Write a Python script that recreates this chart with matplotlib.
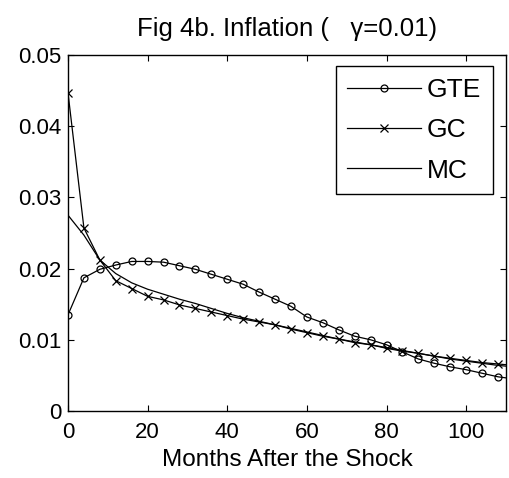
import matplotlib
matplotlib.use("Agg")
import matplotlib.pyplot as plt

months = list(range(0, 113, 4))

# inflation responses (last point sits past the x limit)
gte = [0.0135, 0.0187, 0.0199, 0.0205, 0.0210, 0.0210, 0.0209, 0.0204, 0.0199,
       0.0192, 0.0185, 0.0178, 0.0167, 0.0157, 0.0147, 0.0132, 0.0124, 0.0114,
       0.0105, 0.0100, 0.0093, 0.0083, 0.0073, 0.0067, 0.0062, 0.0058, 0.0053,
       0.0048, 0.0045]
gc = [0.0447, 0.0257, 0.0212, 0.0183, 0.0172, 0.0161, 0.0156, 0.0149, 0.0144,
      0.0139, 0.0134, 0.0129, 0.0125, 0.0121, 0.0115, 0.0110, 0.0105, 0.0101,
      0.0096, 0.0093, 0.0088, 0.0084, 0.0081, 0.0077, 0.0074, 0.0071, 0.0068,
      0.0066, 0.0064]
mc = [0.0275, 0.0247, 0.0212, 0.0193, 0.0180, 0.0171, 0.0164, 0.0157, 0.0151,
      0.0144, 0.0137, 0.0131, 0.0126, 0.0121, 0.0116, 0.0111, 0.0106, 0.0101,
      0.0097, 0.0093, 0.0089, 0.0085, 0.0081, 0.0077, 0.0073, 0.0070, 0.0067,
      0.0064, 0.0062]

plt.rcParams['font.family'] = ['Liberation Sans', 'DejaVu Sans']

fig = plt.figure(figsize=(5.1, 4.78), dpi=100)
ax = fig.add_axes([0.1333, 0.1402, 0.8588, 0.7448])

ax.plot(months, gte, color='black', lw=0.9, marker='o', ms=5, mfc='none', mew=0.9, label='GTE')
ax.plot(months, gc, color='black', lw=0.9, marker='x', ms=6, mew=0.9, label='GC')
ax.plot(months, mc, color='black', lw=0.9, label='MC')

ax.set_xlim(0, 110)
ax.set_ylim(0, 0.05)
ax.set_xticks([0, 20, 40, 60, 80, 100])
ax.set_yticks([0, 0.01, 0.02, 0.03, 0.04, 0.05])
ax.set_yticklabels(['0', '0.01', '0.02', '0.03', '0.04', '0.05'])
ax.tick_params(direction='in', top=True, right=True, labelsize=16, length=4, width=0.8)
ax.tick_params(axis='x', pad=8)
ax.tick_params(axis='y', pad=5)
for s in ax.spines.values():
    s.set_linewidth(1.0)

ax.set_xlabel('Months After the Shock', fontsize=17.5, labelpad=4)
ax.set_title('Fig 4b. Inflation (   γ=0.01)', fontsize=18.5, pad=14)

leg = ax.legend(loc='upper right', bbox_to_anchor=(0.97, 0.969), borderaxespad=0,
                fontsize=19, handlelength=2.8, handletextpad=0.2, labelspacing=0.62,
                fancybox=False, framealpha=1, edgecolor='black', borderpad=0.45)
leg.get_frame().set_linewidth(1.0)

fig.savefig('out.png', dpi=100)
